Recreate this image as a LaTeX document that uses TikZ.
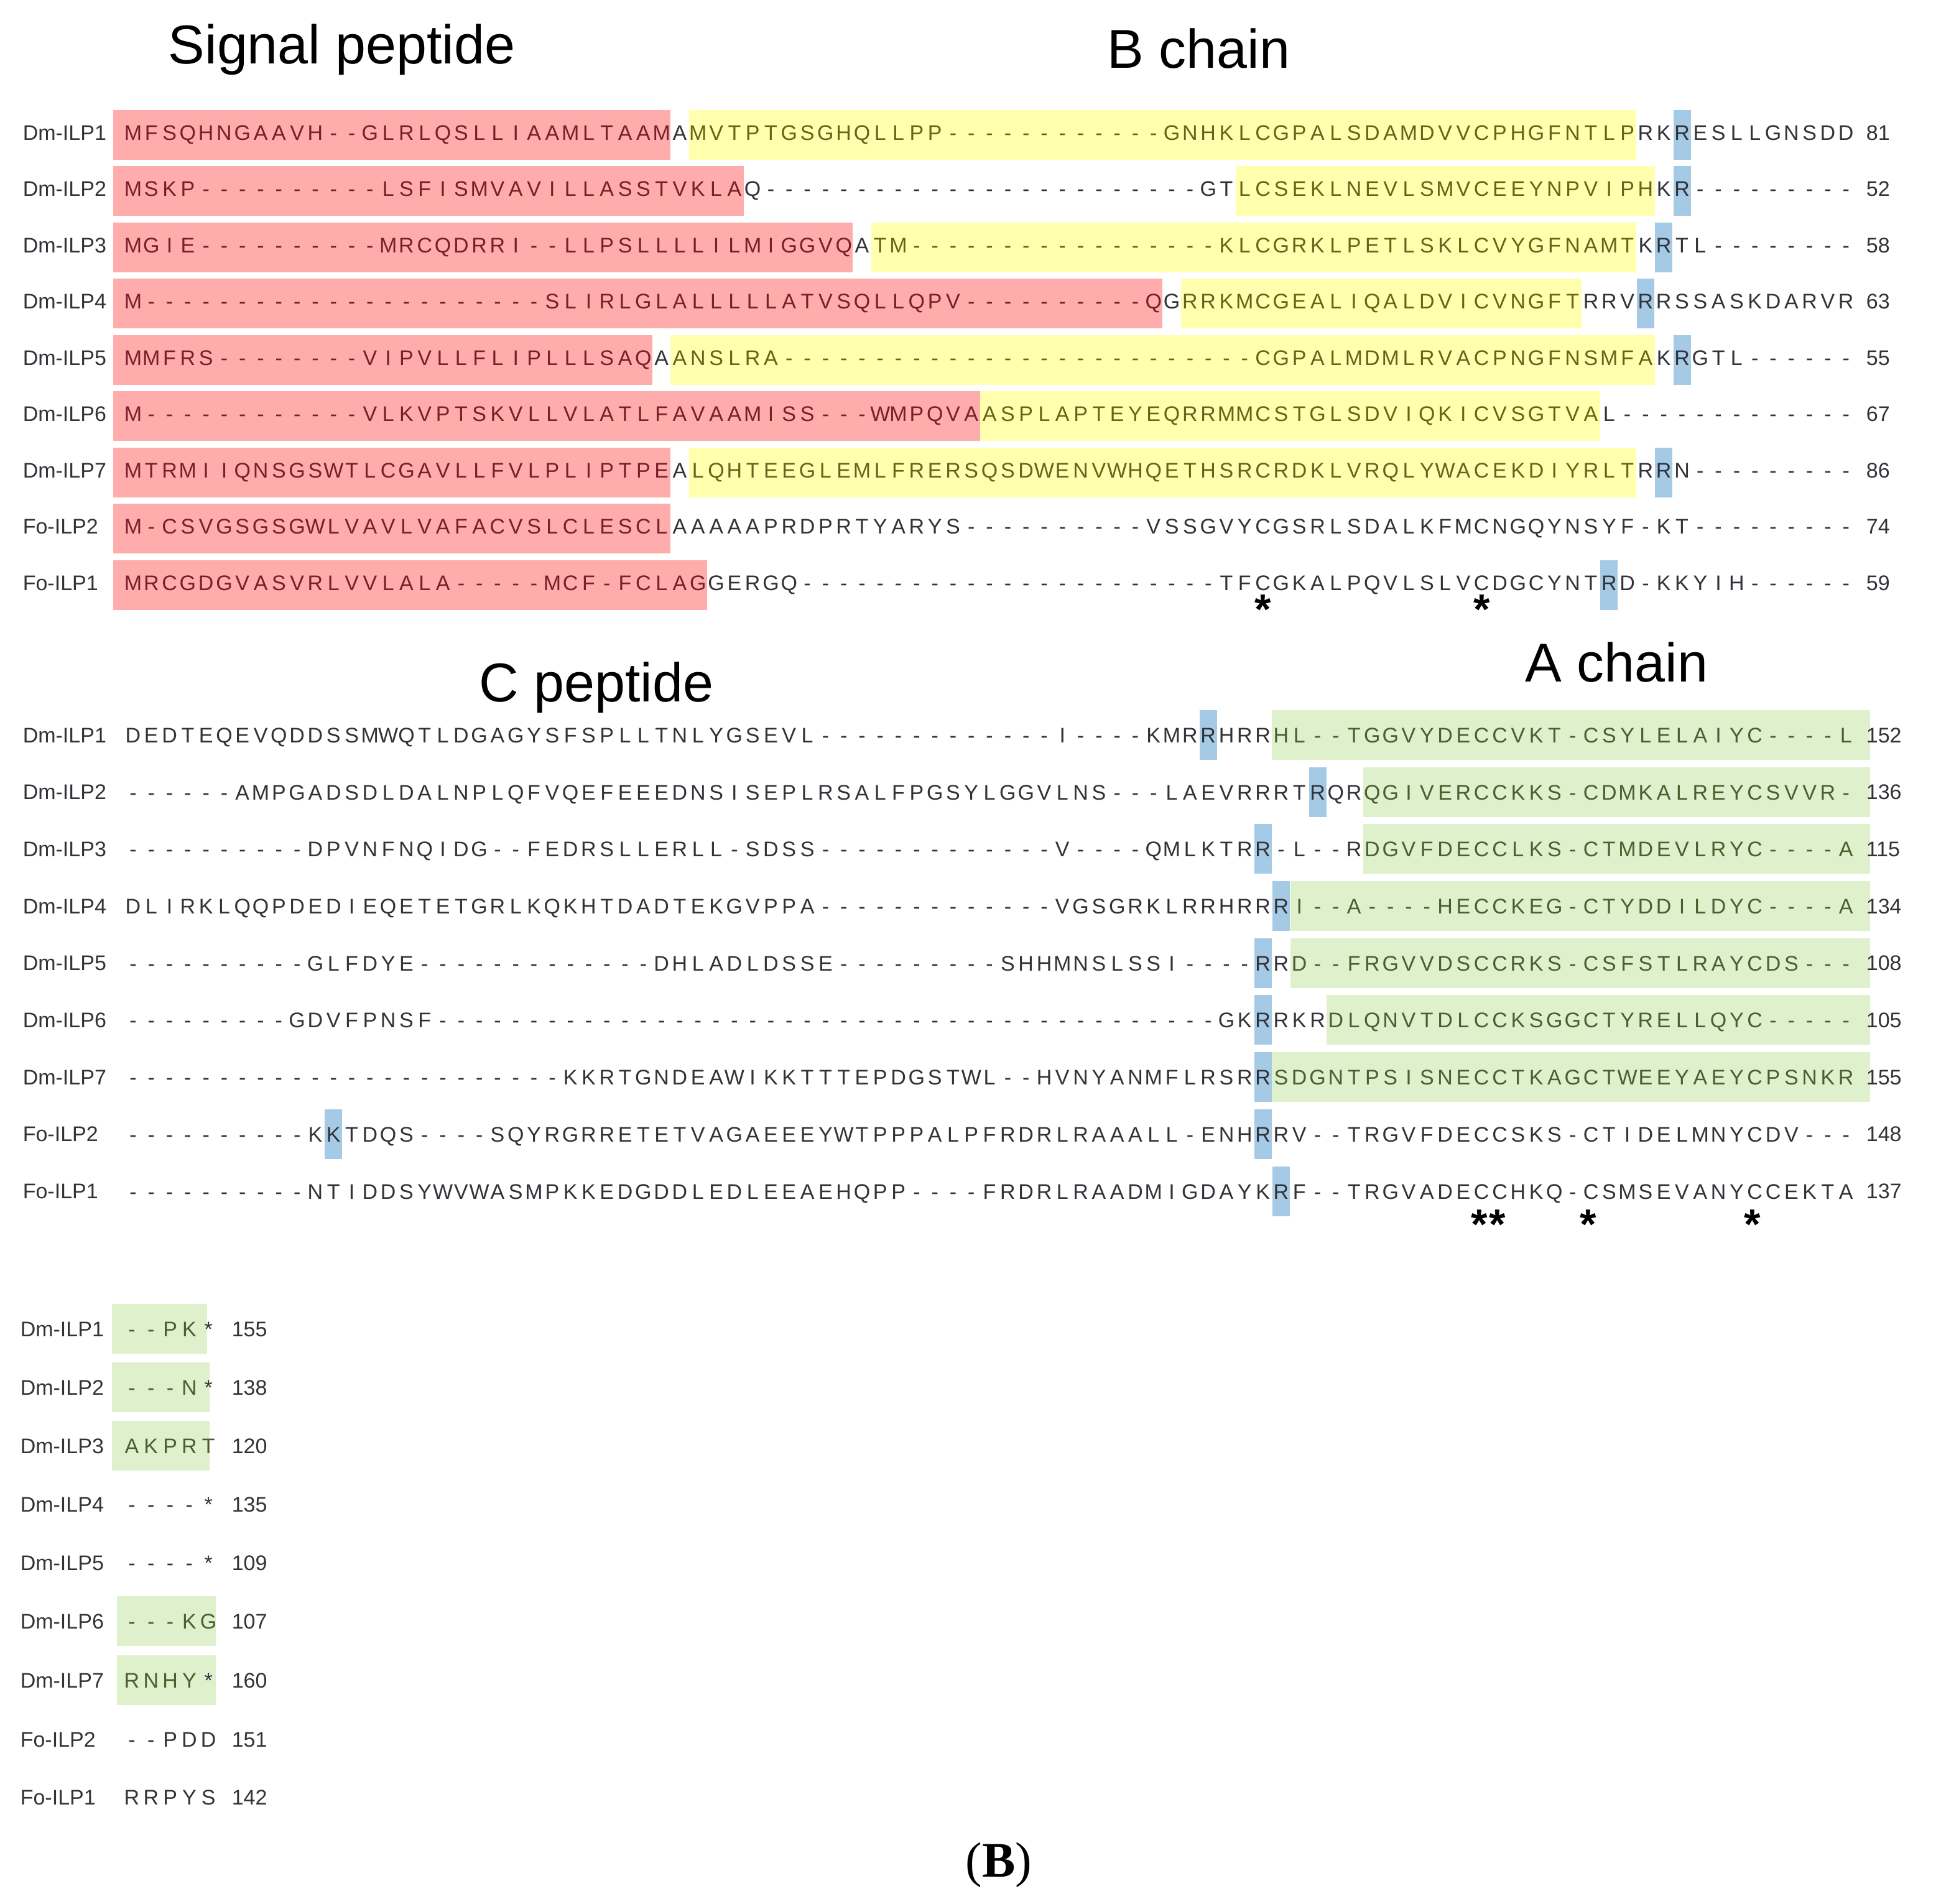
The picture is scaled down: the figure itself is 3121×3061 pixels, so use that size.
\documentclass[tikz,border=0pt]{standalone}
\usepackage{fontspec}
\setmainfont{Liberation Serif}
\setsansfont{Liberation Sans}
\usepackage{tikz}
\usetikzlibrary{positioning,calc}
\definecolor{sigfill}{RGB}{255,172,172}
\definecolor{bfill}{RGB}{255,255,174}
\definecolor{afill}{RGB}{222,240,204}
\definecolor{cleavefill}{RGB}{164,202,230}
\definecolor{sigtext}{RGB}{122,30,42}
\definecolor{btext}{RGB}{100,100,30}
\definecolor{atext}{RGB}{76,94,46}
\definecolor{plaintext}{RGB}{50,50,56}
\pgfdeclarelayer{paper}
\pgfdeclarelayer{boxes}
\pgfsetlayers{paper,boxes,main}
\tikzset{
	alignment/.style={x=0.25pt, y=-0.25pt},
	res/.style={font=\sffamily\fontsize{8.5}{10}\selectfont, anchor=base,
		inner sep=0pt, outer sep=0pt},
	seqname/.style={font=\sffamily\fontsize{8.5}{10}\selectfont, anchor=base west,
		inner sep=0pt, text=plaintext},
	seqlen/.style={seqname},
	region/.style={font=\sffamily\fontsize{22}{26}\selectfont, anchor=base west, inner sep=0pt},
	panel/.style={font=\rmfamily\fontsize{20}{24}\selectfont, anchor=base, inner sep=0pt},
	conserved/.style={font=\sffamily\bfseries\fontsize{17}{20}\selectfont, anchor=base, inner sep=0pt},
	sig/.style={fill=sigfill}, bch/.style={fill=bfill}, ach/.style={fill=afill},
	cleave/.style={fill=cleavefill}
}
% column geometry of the alignment (in pixels of the figure)
\newcount\colno
\def\colorg{214}\def\colstep{29.3}
\def\sigstart{182}\def\gpad{14.65}\def\greenend{3007}
\def\boxup{36}\def\boxdn{44}
\makeatletter
\def\placeres{%
	\def\rescol{plaintext}%
	\ifnum\colno<\rlo\relax\else\ifnum\colno>\rhi\relax\else\def\rescol{sigtext}\fi\fi
	\ifnum\colno<\ylo\relax\else\ifnum\colno>\yhi\relax\else\def\rescol{btext}\fi\fi
	\ifnum\colno<\glo\relax\else\ifnum\colno>\ghi\relax\else\def\rescol{atext}\fi\fi
	\node[res, text=\rescol] (\rowname c\the\colno)
		at ({\colorg+(\the\colno-1)*\colstep},{\rowy+12}) {\res};%
}
% #1 name, #2 row centre, #3-#4 signal, #5-#6 B chain, #7-#8 A chain, #9 residues
\newcommand\seqrow[9]{%
	\def\rowname{#1}\def\rowy{#2}%
	\def\rlo{#3}\def\rhi{#4}\def\ylo{#5}\def\yhi{#6}\def\glo{#7}\def\ghi{#8}%
	\begin{pgfonlayer}{boxes}
		\ifnum\rhi>0 \fill[sig] (\sigstart,{\rowy-\boxup})
			rectangle ({\colorg+(\rhi-0.5)*\colstep},{\rowy+\boxdn});\fi
		\ifnum\yhi>0 \fill[bch] ({\colorg+(\ylo-1.5)*\colstep},{\rowy-\boxup})
			rectangle ({\colorg+(\yhi-0.5)*\colstep},{\rowy+\boxdn});\fi
		\ifnum\ghi>0 \fill[ach] ({\colorg+(\glo-1)*\colstep-\gpad},{\rowy-\boxup})
			rectangle (\greenend,{\rowy+\boxdn});\fi
	\end{pgfonlayer}
	\colno=0
	\@tfor\res:=#9\do{\advance\colno by 1 \placeres}%
}
\makeatother
% cleavage site boxes: row centre, list of columns
\newcommand\cleaveat[2]{%
	\begin{pgfonlayer}{boxes}
		\foreach \c in {#2}
			\fill[cleave] ({\colorg+(\c-1)*\colstep-14},{#1-\boxup})
				rectangle ({\colorg+(\c-1)*\colstep+14},{#1+\boxdn});
	\end{pgfonlayer}
}

\begin{document}
\begin{tikzpicture}[alignment]
	\begin{pgfonlayer}{paper}
		\fill[white] (0,0) rectangle (3121,3061);
	\end{pgfonlayer}
	\useasboundingbox (0,0) rectangle (3121,3061);

	\node[region] (sigtitle) at (270,103) {Signal peptide};
	\node[region] (btitle) at (1780,110) {B chain};

	% block 1
	\seqrow{b1r1}{213}{1}{30}{32}{83}{0}{0}{MFSQHNGAAVH--GLRLQSLLIAAMLTAAMAMVTPTGSGHQLLPP------------GNHKLCGPALSDAMDVVCPHGFNTLPRKRESLLGNSDD}
	\seqrow{b1r2}{303}{1}{34}{62}{84}{0}{0}{MSKP----------LSFISMVAVILLASSTVKLAQ------------------------GTLCSEKLNEVLSMVCEEYNPVIPHKR---------}
	\seqrow{b1r3}{394}{1}{40}{42}{83}{0}{0}{MGIE----------MRCQDRRI--LLPSLLLLILMIGGVQATM-----------------KLCGRKLPETLSKLCVYGFNAMTKRTL--------}
	\seqrow{b1r4}{484}{1}{57}{59}{80}{0}{0}{M----------------------SLIRLGLALLLLLATVSQLLQPV----------QGRRKMCGEALIQALDVICVNGFTRRVRRSSASKDARVR}
	\seqrow{b1r5}{575}{1}{29}{31}{84}{0}{0}{MMFRS--------VIPVLLFLIPLLLSAQAANSLRA--------------------------CGPALMDMLRVACPNGFNSMFAKRGTL------}
	\seqrow{b1r6}{665}{1}{47}{48}{81}{0}{0}{M------------VLKVPTSKVLLVLATLFAVAAMISS---WMPQVAASPLAPTEYEQRRMMCSTGLSDVIQKICVSGTVAL-------------}
	\seqrow{b1r7}{756}{1}{30}{32}{83}{0}{0}{MTRMIIQNSGSWTLCGAVLLFVLPLIPTPEALQHTEEGLEMLFRERSQSDWENVWHQETHSRCRDKLVRQLYWACEKDIYRLTRRN---------}
	\seqrow{b1r8}{846}{1}{30}{0}{0}{0}{0}{M-CSVGSGSGWLVAVLVAFACVSLCLESCLAAAAAPRDPRTYARYS----------VSSGVYCGSRLSDALKFMCNGQYNSYF-KT---------}
	\seqrow{b1r9}{937}{1}{32}{0}{0}{0}{0}{MRCGDGVASVRLVVLALA-----MCF-FCLAGGERGQ-----------------------TFCGKALPQVLSLVCDGCYNTRD-KKYIH------}
	\cleaveat{213}{86} \cleaveat{303}{86} \cleaveat{394}{85} \cleaveat{484}{84}
	\cleaveat{575}{86} \cleaveat{756}{85} \cleaveat{937}{82}
	\foreach \nm/\len [count=\i] in {Dm-ILP1/81, Dm-ILP2/52, Dm-ILP3/58, Dm-ILP4/63,
			Dm-ILP5/55, Dm-ILP6/67, Dm-ILP7/86, Fo-ILP2/74, Fo-ILP1/59} {
		\node[seqname] (b1name\i) at (36,{213+90.5*(\i-1)+12}) {\nm};
		\node[seqlen] (b1len\i) at (3000,{213+90.5*(\i-1)+12}) {\len};
	}
	\foreach \c [count=\k] in {63,75}
		\node[conserved] (b1star\k) at ({\colorg+(\c-1)*\colstep},1003) {*};

	\node[region] (ctitle) at (770,1128) {C peptide};
	\node[region] (atitle) at (2452,1096) {A chain};

	% block 2
	\def\boxup{40}\def\boxdn{40}
	\seqrow{b2r1}{1182}{0}{0}{0}{0}{64}{95}{DEDTEQEVQDDSSMWQTLDGAGYSFSPLLTNLYGSEVL-------------I----KMRRHRRHL--TGGVYDECCVKT-CSYLELAIYC----L}
	\seqrow{b2r2}{1274}{0}{0}{0}{0}{69}{95}{------AMPGADSDLDALNPLQFVQEFEEEDNSISEPLRSALFPGSYLGGVLNS---LAEVRRRTRQRQGIVERCCKKS-CDMKALREYCSVVR-}
	\seqrow{b2r3}{1365}{0}{0}{0}{0}{69}{95}{----------DPVNFNQIDG--FEDRSLLERLL-SDSS-------------V----QMLKTRR-L--RDGVFDECCLKS-CTMDEVLRYC----A}
	\seqrow{b2r4}{1457}{0}{0}{0}{0}{65}{95}{DLIRKLQQPDEDIEQETETGRLKQKHTDADTEKGVPPA-------------VGSGRKLRRHRRRI--A----HECCKEG-CTYDDILDYC----A}
	\seqrow{b2r5}{1549}{0}{0}{0}{0}{65}{95}{----------GLFDYE-------------DHLADLDSSE---------SHHMNSLSSI----RRD--FRGVVDSCCRKS-CSFSTLRAYCDS---}
	\seqrow{b2r6}{1640}{0}{0}{0}{0}{67}{95}{---------GDVFPNSF-------------------------------------------GKRRKRDLQNVTDLCCKSGGCTYRELLQYC-----}
	\seqrow{b2r7}{1732}{0}{0}{0}{0}{64}{95}{------------------------KKRTGNDEAWIKKTTTEPDGSTWL--HVNYANMFLRSRRSDGNTPSISNECCTKAGCTWEEYAEYCPSNKR}
	\seqrow{b2r8}{1824}{0}{0}{0}{0}{0}{0}{----------KKTDQS----SQYRGRRETETVAGAEEEYWTPPPALPFRDRLRAAALL-ENHRRV--TRGVFDECCSKS-CTIDELMNYCDV---}
	\seqrow{b2r9}{1916}{0}{0}{0}{0}{0}{0}{----------NTIDDSYWVWASMPKKEDGDDLEDLEEAEHQPP----FRDRLRAADMIGDAYKRF--TRGVADECCHKQ-CSMSEVANYCCEKTA}
	\cleaveat{1182}{60} \cleaveat{1274}{66} \cleaveat{1365}{63} \cleaveat{1457}{64}
	\cleaveat{1549}{63} \cleaveat{1640}{63} \cleaveat{1732}{63} \cleaveat{1824}{12,63}
	\cleaveat{1916}{64}
	\foreach \nm/\len [count=\i] in {Dm-ILP1/152, Dm-ILP2/136, Dm-ILP3/115, Dm-ILP4/134,
			Dm-ILP5/108, Dm-ILP6/105, Dm-ILP7/155, Fo-ILP2/148, Fo-ILP1/137} {
		\node[seqname] (b2name\i) at (36,{1182+91.7*(\i-1)+12}) {\nm};
		\node[seqlen] (b2len\i) at (3000,{1182+91.7*(\i-1)+12}) {\len};
	}
	\foreach \c [count=\k] in {75,76,81,90}
		\node[conserved] (b2star\k) at ({\colorg+(\c-1)*\colstep-4},1992) {*};

	% block 3
	\def\colorg{212}\def\colstep{30.8}\def\gpad{32}
	\def\greenend{333}\seqrow{b3r1}{2137}{0}{0}{0}{0}{1}{4}{--PK*}
	\def\greenend{337}\seqrow{b3r2}{2231}{0}{0}{0}{0}{1}{4}{---N*}
	\seqrow{b3r3}{2325}{0}{0}{0}{0}{1}{5}{AKPRT}
	\seqrow{b3r4}{2419}{0}{0}{0}{0}{0}{0}{----*}
	\seqrow{b3r5}{2513}{0}{0}{0}{0}{0}{0}{----*}
	\def\gpad{24}\def\greenend{347}\seqrow{b3r6}{2607}{0}{0}{0}{0}{1}{5}{---KG}
	\seqrow{b3r7}{2702}{0}{0}{0}{0}{1}{4}{RNHY*}
	\seqrow{b3r8}{2797}{0}{0}{0}{0}{0}{0}{--PDD}
	\seqrow{b3r9}{2890}{0}{0}{0}{0}{0}{0}{RRPYS}
	\foreach \nm/\len/\y [count=\i] in {Dm-ILP1/155/2137, Dm-ILP2/138/2231, Dm-ILP3/120/2325,
			Dm-ILP4/135/2419, Dm-ILP5/109/2513, Dm-ILP6/107/2607, Dm-ILP7/160/2702,
			Fo-ILP2/151/2797, Fo-ILP1/142/2890} {
		\node[seqname] (b3name\i) at (32,{\y+12}) {\nm};
		\node[seqlen] (b3len\i) at (372,{\y+12}) {\len};
	}

	\node[panel] (panelB) at (1606,3018) {(\textbf{B})};
\end{tikzpicture}
\end{document}
